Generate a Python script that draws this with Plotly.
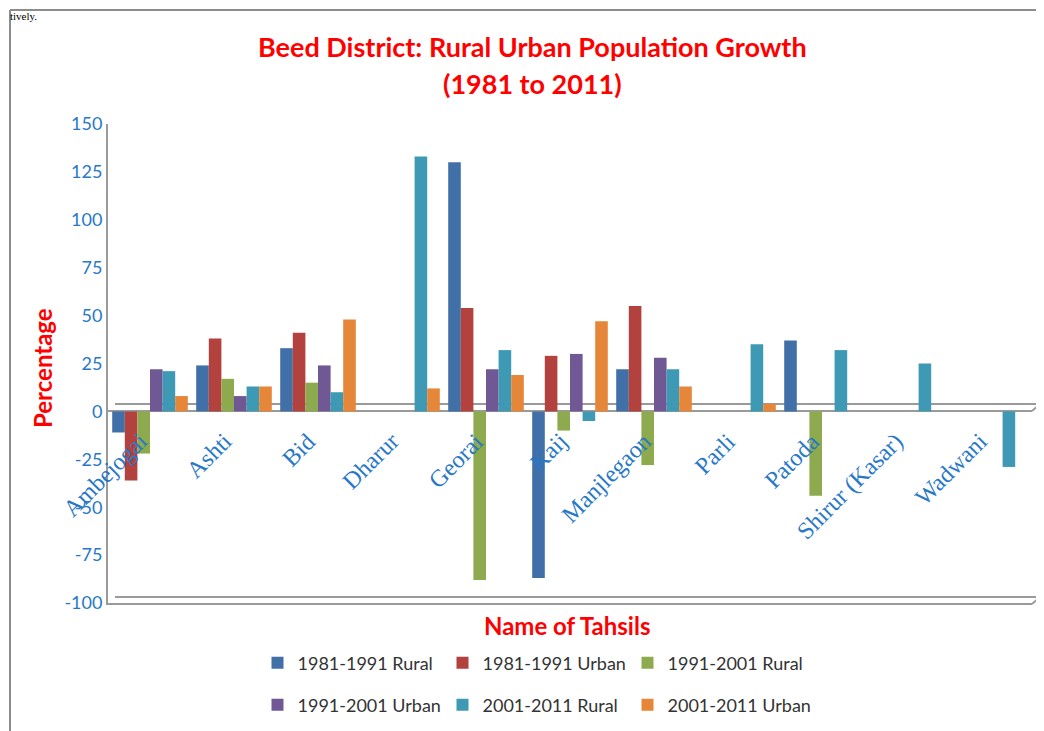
import plotly.graph_objects as go

tahsils = ["Ambejogai", "Ashti", "Bid", "Dharur", "Georai", "Kaij",
           "Manjlegaon", "Parli", "Patoda", "Shirur (Kasar)", "Wadwani"]

r8191_rural = [-11, 24, 33, 0, 130, -87, 22, 0, 37, 0, 0]
r8191_urban = [-36, 38, 41, 0, 54, 29, 55, 0, 0, 0, 0]
r9101_rural = [-22, 17, 15, 0, -88, -10, -28, 0, -44, 0, 0]
r9101_urban = [22, 8, 24, 0, 22, 30, 28, 0, 0, 0, 0]
r0111_rural = [21, 13, 10, 133, 32, -5, 22, 35, 32, 25, -29]
r0111_urban = [8, 13, 48, 12, 19, 47, 13, 4, 0, 0, 0]

series_names = ["1981-1991 Rural", "1981-1991 Urban", "1991-2001 Rural",
                "1991-2001 Urban", "2001-2011 Rural", "2001-2011 Urban"]
series_values = [r8191_rural, r8191_urban, r9101_rural,
                 r9101_urban, r0111_rural, r0111_urban]
colors = ["#4170A8", "#B3413D", "#8DAA4E", "#6F5893", "#3E9AB4", "#E58638"]

y_ticks = [-100, -75, -50, -25, 0, 25, 50, 75, 100, 125, 150]
y_tick_labels = ["-100", "-75", "-50", "-25", "0", "25", "50", "75", "100", "125", "150"]

# page body margin offset (browser default 8px)
O = 8
W, H = 1044, 731
# plot area in screen pixels
PL, PR, PT, PB = 108, 1032, 124, 603
ML, MT = PL - O, PT - O
MR = W - (PR - O)
MB = H - (PB - O)

fig = go.Figure()
for i, (name, vals, col) in enumerate(zip(series_names, series_values, colors)):
    fig.add_trace(go.Bar(
        x=tahsils, y=vals, name=name,
        marker=dict(color=col, line=dict(color=col, width=0)),
        legend="legend" if i < 3 else "legend2",
    ))

blue = "#2878C8"
red = "#FF0000"

pw = PR - PL
ph = PB - PT
def px(x):
    return (x - PL) / pw
def py(y):
    return (PB - y) / ph

annotations = []
for t in tahsils:
    annotations.append(dict(
        x=t, y=0, xref="x", yref="y", text=t, showarrow=False,
        textangle=-45, xanchor="right", yanchor="top", xshift=5, yshift=-14,
        font=dict(family="Liberation Serif", size=24, color=blue)))

annotations += [
    dict(x=px(532), y=py(47), xref="paper", yref="paper", xanchor="center", yanchor="middle",
         text="<b>Beed District: Rural Urban Population Growth</b>", showarrow=False,
         font=dict(family="Lato", size=27, color=red)),
    dict(x=px(532), y=py(83), xref="paper", yref="paper",
         xanchor="center", yanchor="middle", text="<b>(1981 to 2011)</b>", showarrow=False,
         font=dict(family="Lato", size=27, color=red)),
    dict(x=px(42), y=py(368), xref="paper", yref="paper",
         xanchor="center", yanchor="middle", text="<b>Percentage</b>", textangle=-90, showarrow=False,
         font=dict(family="Lato", size=24, color=red)),
    dict(x=px(567), y=py(625), xref="paper", yref="paper",
         xanchor="center", yanchor="middle", text="<b>Name of Tahsils</b>", showarrow=False,
         font=dict(family="Lato", size=24, color=red)),
    dict(x=px(O), y=py(O), xref="paper", yref="paper",
         xanchor="left", yanchor="top", text="tively.", showarrow=False,
         font=dict(family="Liberation Serif", size=11, color="#000")),
]

frame = "#8C8C8C"
floor = "#9A9A9A"
shapes = [
    dict(type="line", xref="paper", yref="paper", x0=px(10), x1=px(10), y0=py(10), y1=py(760),
         line=dict(color=frame, width=2)),
    dict(type="line", xref="paper", yref="paper", x0=px(10), x1=px(1040), y0=py(10), y1=py(10),
         line=dict(color=frame, width=2)),
    dict(type="line", xref="paper", yref="paper", x0=px(1040), x1=px(1040), y0=py(10), y1=py(760),
         line=dict(color=frame, width=2)),
    dict(type="line", xref="paper", yref="paper", x0=px(115), x1=px(1040), y0=py(404), y1=py(404),
         line=dict(color=floor, width=2), layer="below"),
    dict(type="line", xref="paper", yref="paper", x0=px(115), x1=px(1040), y0=py(597), y1=py(597),
         line=dict(color=floor, width=2), layer="below"),
    dict(type="line", xref="paper", yref="paper", x0=px(1032), x1=px(1040), y0=py(604), y1=py(597),
         line=dict(color=floor, width=2), layer="below"),
    dict(type="line", xref="paper", yref="paper", x0=px(1032), x1=px(1040), y0=py(411), y1=py(404),
         line=dict(color=floor, width=2), layer="below"),
]

legend_common = dict(orientation="h", x=px(535), xanchor="center", yanchor="middle",
                     font=dict(family="Lato", size=18, color="#333"), entrywidth=140,
                     entrywidthmode="pixels", itemclick=False, itemwidth=30,
                     bgcolor="rgba(0,0,0,0)")

fig.update_layout(
    width=W, height=H,
    margin=dict(l=ML, r=MR, t=MT, b=MB, autoexpand=False),
    paper_bgcolor="white", plot_bgcolor="white",
    barmode="group", bargap=0.1, bargroupgap=0.0,
    showlegend=True,
    annotations=annotations,
    shapes=shapes,
    xaxis=dict(range=[-0.5, len(tahsils) - 0.5], autorange=False,
               showticklabels=False, showgrid=False, zeroline=False,
               showline=True, linecolor=floor, linewidth=2, ticks=""),
    yaxis=dict(range=[-100, 150], autorange=False, tickvals=y_ticks, ticktext=y_tick_labels,
               showgrid=False, zeroline=True, zerolinecolor=floor, zerolinewidth=2,
               showline=True, linecolor=floor, linewidth=2,
               ticks="", tickfont=dict(family="Lato", size=18, color=blue)),
    legend=dict(legend_common, y=py(663)),
    legend2=dict(legend_common, y=py(705)),
)

fig.write_html("out.html")
